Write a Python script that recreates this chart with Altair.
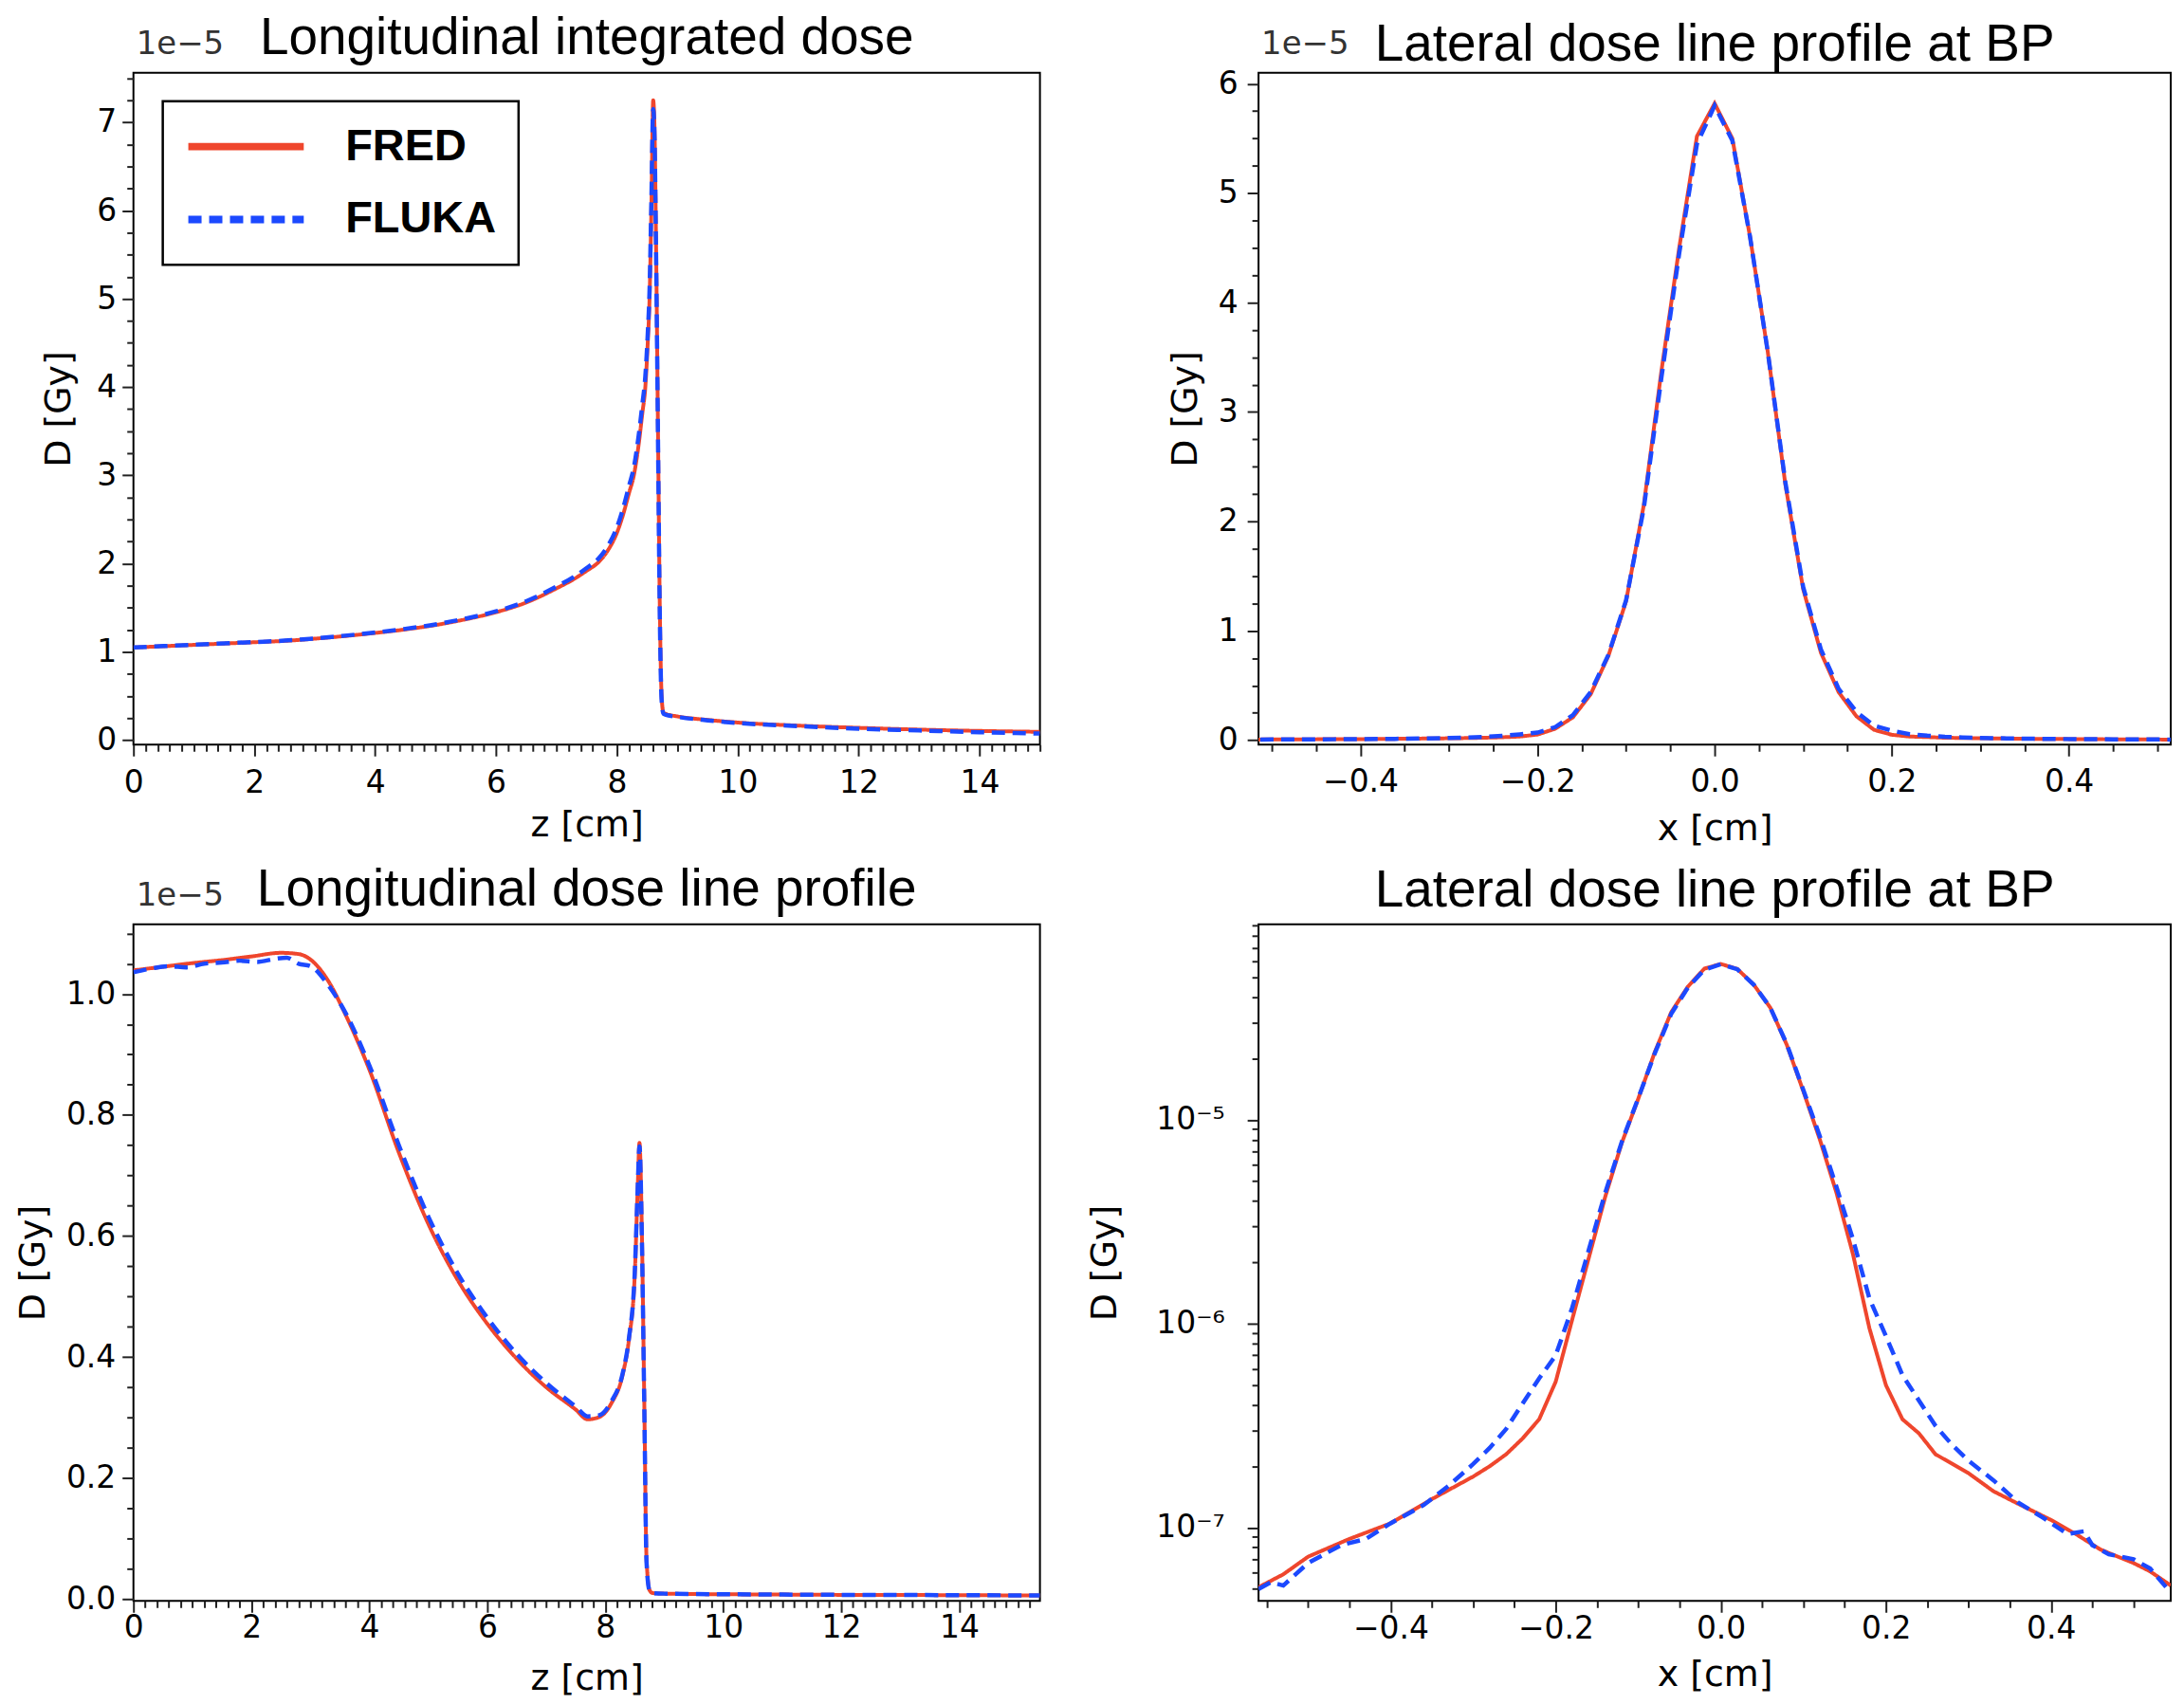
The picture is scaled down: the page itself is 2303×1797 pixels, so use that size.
import altair as alt
import pandas as pd

# ---------------- data ----------------
# Top-left: longitudinal integrated dose, units of 1e-5 Gy
TL_Z = [0, 0.5, 1, 1.5, 2, 2.5, 3, 3.5, 4, 4.5, 5, 5.5, 6, 6.5, 7, 7.3, 7.5, 7.7,
        7.85, 8.0, 8.1, 8.2, 8.28, 8.36, 8.42, 8.47, 8.51, 8.54, 8.57, 8.6, 8.62,
        8.65, 8.68, 8.71, 8.74, 8.77, 8.8, 9, 9.5, 10, 11, 12, 13, 14, 15]
TL_FRED = [1.05, 1.065, 1.08, 1.095, 1.11, 1.125, 1.15, 1.18, 1.215, 1.255, 1.305,
           1.37, 1.45, 1.56, 1.72, 1.83, 1.92, 2.02, 2.15, 2.35, 2.55, 2.8, 3.0, 3.35,
           3.7, 4.0, 4.5, 5.0, 6.0, 7.25, 7.0, 5.5, 3.5, 1.5, 0.5, 0.31, 0.3, 0.27,
           0.23, 0.2, 0.165, 0.14, 0.12, 0.105, 0.095]
TL_FLUKA = [1.05, 1.066, 1.082, 1.097, 1.112, 1.128, 1.153, 1.184, 1.22, 1.262, 1.312,
            1.378, 1.46, 1.575, 1.74, 1.855, 1.95, 2.06, 2.2, 2.41, 2.62, 2.88, 3.09,
            3.45, 3.8, 4.12, 4.6, 5.1, 6.1, 7.15, 6.9, 5.4, 3.4, 1.4, 0.45, 0.3, 0.29,
            0.265, 0.225, 0.195, 0.16, 0.13, 0.11, 0.09, 0.075]

# Bottom-left: longitudinal dose line profile, units of 1e-5 Gy
BL_Z_FRED = [0, 0.5, 1, 1.5, 2, 2.5, 2.8, 3.0, 3.3, 3.6, 4.0, 4.5, 5.0, 5.5, 6.0, 6.5,
             7.0, 7.5, 7.7, 7.9, 8.1, 8.3, 8.4, 8.5, 8.55, 8.58, 8.62, 8.66, 8.7, 8.75,
             8.8, 9, 10, 11, 12, 13, 14, 15.37]
BL_FRED = [1.039, 1.045, 1.051, 1.056, 1.062, 1.068, 1.066, 1.057, 1.022, 0.965, 0.875,
           0.738, 0.62, 0.527, 0.455, 0.397, 0.35, 0.313, 0.297, 0.301, 0.323, 0.373,
           0.428, 0.536, 0.68, 0.754, 0.61, 0.337, 0.065, 0.015, 0.01, 0.009, 0.008,
           0.0075, 0.007, 0.0068, 0.0065, 0.006]
BL_Z_FLUKA = [0, 0.3, 0.6, 0.9, 1.2, 1.5, 1.8, 2.1, 2.4, 2.6, 2.8, 3.0, 3.3, 3.6, 4.0,
              4.5, 5.0, 5.5, 6.0, 6.5, 7.0, 7.5, 7.7, 7.9, 8.1, 8.3, 8.4, 8.5, 8.55,
              8.58, 8.62, 8.66, 8.7, 8.75, 8.8, 9, 10, 11, 12, 13, 14, 15.37]
BL_FLUKA = [1.036, 1.042, 1.046, 1.044, 1.05, 1.052, 1.055, 1.053, 1.058, 1.06, 1.05,
            1.046, 1.015, 0.968, 0.882, 0.75, 0.632, 0.538, 0.465, 0.405, 0.357, 0.318,
            0.302, 0.304, 0.326, 0.375, 0.43, 0.54, 0.68, 0.748, 0.6, 0.33, 0.06, 0.014,
            0.01, 0.009, 0.008, 0.0075, 0.007, 0.0068, 0.0065, 0.006]

# Lateral dose line profile at BP, units of 1e-5 Gy (used by both right panels)
LAT_X_FRED = [-0.56, -0.53, -0.5, -0.45, -0.4, -0.35, -0.3, -0.28, -0.26, -0.24, -0.22,
              -0.2, -0.18, -0.16, -0.14, -0.12, -0.1, -0.08, -0.06, -0.04, -0.02, 0,
              0.02, 0.04, 0.06, 0.08, 0.1, 0.12, 0.14, 0.16, 0.18, 0.2, 0.22, 0.24,
              0.26, 0.3, 0.33, 0.36, 0.4, 0.43, 0.46, 0.5, 0.52, 0.545]
LAT_FRED = [0.0051, 0.0059, 0.0072, 0.0088, 0.0105, 0.0138, 0.0178, 0.020, 0.0229,
            0.0274, 0.034, 0.052, 0.105, 0.21, 0.42, 0.77, 1.27, 2.15, 3.38, 4.5, 5.52,
            5.82, 5.5, 4.6, 3.55, 2.33, 1.38, 0.8, 0.44, 0.22, 0.095, 0.05, 0.034,
            0.029, 0.0229, 0.0185, 0.0151, 0.0131, 0.0109, 0.0093, 0.0078, 0.0067,
            0.0061, 0.0052]
LAT_X_FLUKA = [-0.56, -0.545, -0.53, -0.5, -0.46, -0.43, -0.4, -0.36, -0.33, -0.3, -0.28,
               -0.26, -0.24, -0.22, -0.2, -0.18, -0.16, -0.14, -0.12, -0.1, -0.08, -0.06,
               -0.04, -0.02, 0, 0.02, 0.04, 0.06, 0.08, 0.1, 0.12, 0.14, 0.16, 0.18, 0.2,
               0.22, 0.24, 0.26, 0.28, 0.3, 0.33, 0.36, 0.39, 0.42, 0.44, 0.45, 0.47,
               0.5, 0.52, 0.545]
LAT_FLUKA = [0.0050, 0.0054, 0.0052, 0.0067, 0.0082, 0.0088, 0.0105, 0.0129, 0.016,
             0.0205, 0.0246, 0.0305, 0.0407, 0.054, 0.07, 0.12, 0.23, 0.44, 0.78, 1.28,
             2.12, 3.32, 4.45, 5.45, 5.8, 5.48, 4.6, 3.55, 2.35, 1.4, 0.83, 0.47, 0.26,
             0.133, 0.087, 0.056, 0.042, 0.0316, 0.0255, 0.0213, 0.0171, 0.0133, 0.0112,
             0.0093, 0.0096, 0.0082, 0.0074, 0.0070, 0.0063, 0.0048]

# tick positions and labels
Z_TICKS = [round(0.2 * i, 2) for i in range(0, 78)]          # major every 2, minor 0.2
TL_Y_TICKS = [round(0.25 * i, 2) for i in range(0, 31)]      # major 1, minor 0.25
BL_Y_TICKS = [round(0.05 * i, 2) for i in range(0, 23)]      # major 0.2, minor 0.05
TR_Y_TICKS = [round(0.25 * i, 2) for i in range(0, 25)]      # major 1, minor 0.25
X_TICKS = [round(-0.55 + 0.05 * i, 2) for i in range(0, 23)]  # major 0.2, minor 0.05
LOG_TICKS = [k * 10.0 ** e for e in (-8, -7, -6, -5) for k in range(1, 10)]
LOG_LABELS = {"-7": "10\u207b\u2077", "-6": "10\u207b\u2076", "-5": "10\u207b\u2075"}

SERIES = ["FRED", "FLUKA"]
RED = "#ef462d"
BLUE = "#1c49ff"


def df(x, y, name, scale=1.0):
    return pd.DataFrame({"x": x, "y": [v * scale for v in y], "src": name})


color_scale = alt.Scale(domain=SERIES, range=[RED, BLUE])
dash_scale = alt.Scale(domain=SERIES, range=[[1, 0], [14, 8]])


def major(step):
    return f"abs(datum.value/{step} - round(datum.value/{step})) < 1e-6"


def axis(values, test, fmt, title, lpad, tpad, label_expr=None, log=False):
    extra = {} if log else {"tickMinStep": 0.0001}
    return alt.Axis(
        values=values, tickCount=len(values) + 5, format=fmt, title=title,
        labelExpr=label_expr if label_expr else f"({test}) ? datum.label : ''",
        tickSize={"condition": {"test": test, "value": 12}, "value": 7},
        labelPadding=lpad, titlePadding=tpad, labelFlush=False, labelOverlap=False,
        grid=False, domain=False, **extra,
    )


def panel(fred, fluka, xdom, ydom, xaxis, yaxis, title, w, h, legend=False,
          ylog=False, offset_text=True, title_gap=10, title_dy=0, smooth=False):
    leg = None
    if legend:
        leg = alt.Legend(orient="none", legendX=31, legendY=30, title=None,
                         symbolType="stroke", symbolSize=14884, symbolStrokeWidth=8,
                         clipHeight=50, labelFontSize=47, labelFont="Liberation Sans",
                         labelFontWeight="bold", labelColor="black", padding=23,
                         rowPadding=27, labelOffset=40, strokeColor="black",
                         fillColor="white")
    ysc = alt.Scale(domain=ydom, type="log" if ylog else "linear", nice=False, zero=False)
    xsc = alt.Scale(domain=xdom, nice=False, zero=False)
    enc = dict(
        x=alt.X("x:Q", scale=xsc, axis=xaxis),
        y=alt.Y("y:Q", scale=ysc, axis=yaxis),
        color=alt.Color("src:N", scale=color_scale, legend=leg),
        strokeDash=alt.StrokeDash("src:N", scale=dash_scale, legend=leg),
    )
    interp = "monotone" if smooth else "linear"
    layers = [
        alt.Chart(fred).mark_line(clip=True, strokeWidth=4, interpolate=interp).encode(**enc),
        alt.Chart(fluka).mark_line(clip=True, strokeWidth=4.5, interpolate=interp).encode(**enc),
    ]
    if offset_text:
        layers.append(
            alt.Chart(pd.DataFrame({"t": ["1e\u22125"]})).mark_text(
                align="left", baseline="middle", font="DejaVu Sans", fontSize=34,
                color="#333333"
            ).encode(text="t:N", x=alt.value(3), y=alt.value(-30))
        )
        # the "1e-5" text raises the group's top bound to about -47 px;
        # shift the title back down so it sits title_gap px above the plot
        t = alt.Title(title, fontSize=55, font="Liberation Sans", fontWeight="normal",
                      color="black", offset=0, dy=47 - title_gap)
    else:
        t = alt.Title(title, fontSize=55, font="Liberation Sans", fontWeight="normal",
                      color="black", offset=title_gap, dy=title_dy)
    return alt.layer(*layers).properties(width=w, height=h, title=t)


W1, W2, H1, H2 = 958, 964, 710, 715

tl = panel(
    df(TL_Z, TL_FRED, "FRED"), df(TL_Z, TL_FLUKA, "FLUKA"),
    [0, 15], [-0.05, 7.56],
    axis(Z_TICKS, major(2), ".0f", "z [cm]", 12, 9),
    axis(TL_Y_TICKS, major(1), ".0f", "D [Gy]", 6, 20),
    "Longitudinal integrated dose", W1, H1, legend=True, title_gap=8, smooth=True,
)
tr = panel(
    df(LAT_X_FRED, LAT_FRED, "FRED"), df(LAT_X_FLUKA, LAT_FLUKA, "FLUKA"),
    [-0.515, 0.515], [-0.04, 6.1],
    axis(X_TICKS, major(0.2), ".1f", "x [cm]", 11, 14),
    axis(TR_Y_TICKS, major(1), ".0f", "D [Gy]", 10, 15),
    "Lateral dose line profile at BP", W2, H1, title_gap=1,
)
bl = panel(
    df(BL_Z_FRED, BL_FRED, "FRED"), df(BL_Z_FLUKA, BL_FLUKA, "FLUKA"),
    [0, 15.37], [-0.003, 1.115],
    axis(Z_TICKS, major(2), ".0f", "z [cm]", 0, 18),
    axis(BL_Y_TICKS, major(0.2), ".1f", "D [Gy]", 7, 15),
    "Longitudinal dose line profile", W1, H2, title_gap=8, smooth=True,
)
log_test = "abs(log(datum.value)/LN10 - round(log(datum.value)/LN10)) < 1e-6"
log_expr = ("(" + log_test + ") ? (round(log(datum.value)/LN10) == -5 ? '" + LOG_LABELS["-5"]
            + "' : round(log(datum.value)/LN10) == -6 ? '" + LOG_LABELS["-6"]
            + "' : '" + LOG_LABELS["-7"] + "') : ''")
br = panel(
    df(LAT_X_FRED, LAT_FRED, "FRED", 1e-5), df(LAT_X_FLUKA, LAT_FLUKA, "FLUKA", 1e-5),
    [-0.56, 0.545], [4.37e-8, 9.1e-5],
    axis(X_TICKS, major(0.2), ".1f", "x [cm]", 1, 13),
    axis(LOG_TICKS, log_test, "", "D [Gy]", 24, 34, label_expr=log_expr, log=True),
    "Lateral dose line profile at BP", W2, H2, ylog=True, offset_text=False,
    title_gap=10, title_dy=18,
)

chart = alt.concat(
    tl, tr, bl, br, columns=2, spacing={"row": 190, "column": 231}, bounds="flush"
).resolve_scale(
    color="independent", strokeDash="independent", x="independent", y="independent"
).properties(
    padding={"left": 7, "top": 2, "right": 5, "bottom": 3}
).configure_view(
    stroke="black", strokeWidth=2
).configure_axis(
    labelFont="DejaVu Sans", labelFontSize=33, labelColor="black",
    titleFont="DejaVu Sans", titleFontSize=38, titleFontWeight="normal",
    titleColor="black", tickColor="#222222", tickWidth=2,
).configure_legend(strokeWidth=2.5)

chart.save("out.html", embed_options={"renderer": "svg", "actions": False})
